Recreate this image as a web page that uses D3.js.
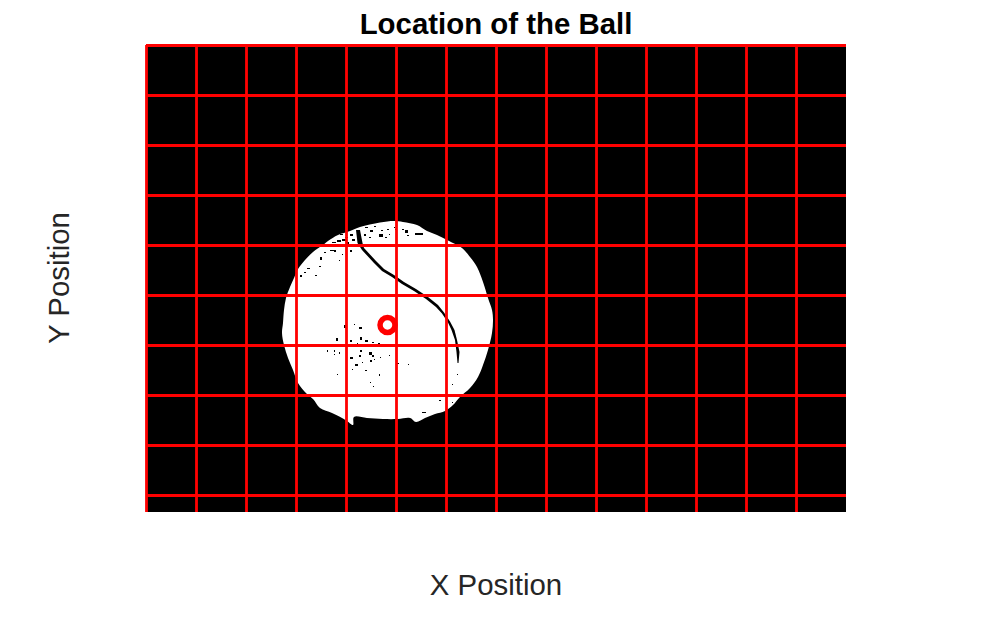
<!DOCTYPE html>
<html><head><meta charset="utf-8"><style>html,body{margin:0;background:#fff}svg{display:block}text{font-family:"Liberation Sans",Arial,sans-serif}</style>
<script src="https://cdn.jsdelivr.net/npm/d3@7/dist/d3.min.js"></script></head><body><div id="c"></div><script>
const titleText="Location of the Ball", xLabel="X Position", yLabel="Y Position";
const xTicks=[0,100,200,300,400,500,600,700,800,900,1000,1100,1200,1300];
const yTicks=[0,100,200,300,400,500,600,700,800,900];
const ballCenter=[[483,560]];
const ballOutline=[[496,352],[468,355],[428,364],[408,372],[384,380],[364,392],[354,400],[334,414],[318,430],[304,448],[296,466],[288,484],[280,506],[276,530],[274,556],[272,576],[276,600],[284,626],[294,650],[304,676],[322,698],[334,708],[348,726],[372,736],[392,746],[402,752],[414,760],[416,744],[442,746],[474,748],[504,748],[528,746],[540,754],[558,746],[578,738],[598,732],[614,720],[628,704],[648,686],[664,664],[674,640],[684,610],[692,576],[694,550],[692,530],[684,506],[674,474],[662,444],[648,424],[632,406],[614,396],[602,390],[582,380],[562,372],[542,360],[514,354]];
const seamOutline=[[428,370],[433,396],[436,406],[460,432],[476,448],[496,460],[516,474],[540,488],[564,504],[584,520],[596,535],[608,553],[617,570],[622,590],[627,614],[625,636],[623,636],[621,614],[618,590],[611,570],[604,555],[592,537],[580,524],[560,508],[536,492],[512,478],[492,464],[472,452],[456,436],[432,410],[423,396],[420,370]];
const specks=[[538,375,16,5],[518,370,6,5],[511,367,4,3],[465,378,8,5],[481,367,4,3],[495,363,3,3],[448,370,5,3],[438,363,5,2],[435,378,5,3],[445,383,4,3],[478,383,4,3],[521,380,4,2],[548,378,5,2],[408,377,5,4],[391,387,10,4],[381,390,8,3],[371,393,8,3],[388,377,6,3],[398,383,5,3],[368,409,10,3],[355,413,5,3],[375,410,4,3],[348,423,3,6],[391,417,3,3],[385,430,3,2],[321,445,6,2],[315,453,4,2],[308,460,3,3],[338,460,3,2],[345,442,5,2],[408,410,4,3],[485,377,3,3],[498,367,3,2],[456,362,4,2],[470,370,3,2],[412,388,5,3],[402,394,4,3],[362,400,4,3],
[395,560,4,6],[425,563,6,5],[415,557,3,3],[379,585,4,6],[408,590,4,4],[428,583,4,6],[438,590,5,4],[421,595,3,3],[451,593,4,3],[463,595,4,4],[361,610,2,4],[375,610,2,3],[385,613,2,4],[375,617,2,3],[428,610,4,3],[445,613,6,6],[451,620,4,4],[408,623,6,4],[425,620,4,3],[448,630,3,3],[468,623,2,3],[485,620,2,2],[418,638,6,4],[431,633,3,3],[501,635,5,3],[523,638,2,2],[411,647,2,2],[438,650,3,2],[465,657,3,4],[381,657,2,2],[447,673,2,2],[611,677,2,2],[453,682,2,2],[585,709,4,3],[611,713,3,3],[551,733,8,2],[598,737,3,3],[621,657,2,3],[448,617,4,3],[455,627,3,3]];
const W=994,H=640,L=146,T=45,PW=700,PH=467;
const svg=d3.select("#c").append("svg").attr("width",W).attr("height",H);
const x=d3.scaleLinear().domain([0,1400]).range([L,L+PW]);
const y=d3.scaleLinear().domain([0,934]).range([T,T+PH]);
const plot=svg.append("g");
plot.append("rect").attr("x",x(0)).attr("y",y(0)).attr("width",x(1400)-x(0)).attr("height",y(934)-y(0)).attr("fill","#000");
const smooth=d3.line().x(d=>x(d[0])).y(d=>y(d[1])).curve(d3.curveCatmullRomClosed);
const area=d3.line().x(d=>x(d[0])).y(d=>y(d[1])).curve(d3.curveLinearClosed);
plot.append("path").datum(ballOutline).attr("d",smooth).attr("fill","#fff");
plot.append("path").datum(seamOutline).attr("d",area).attr("fill","#000");
plot.selectAll("rect.s").data(specks).join("rect").attr("class","s")
 .attr("x",d=>x(d[0])).attr("y",d=>y(d[1])).attr("width",d=>x(d[2])-x(0)).attr("height",d=>y(d[3])-y(0)).attr("fill","#000").attr("shape-rendering","crispEdges");
const ax=d3.axisBottom(x).tickValues(xTicks).tickFormat("").tickSize(y(934)-y(0)).tickSizeOuter(0);
const ay=d3.axisRight(y).tickValues(yTicks).tickFormat("").tickSize(x(1400)-x(0)).tickSizeOuter(0);
const gx=plot.append("g").attr("transform",`translate(0,${y(0)})`).call(ax);
const gy=plot.append("g").attr("transform",`translate(${x(0)},0)`).call(ay);
[gx,gy].forEach(g=>{g.select(".domain").remove();g.selectAll("line").attr("stroke","#ff0000").attr("stroke-width",2.8);});
plot.selectAll("circle.m").data(ballCenter).join("circle").attr("class","m").attr("cx",d=>x(d[0])).attr("cy",d=>y(d[1])).attr("r",7.5).attr("fill","none").attr("stroke","#ff0000").attr("stroke-width",5.5);
svg.append("text").attr("x",496).attr("y",34).attr("text-anchor","middle").attr("font-size",29.4).attr("font-weight","bold").attr("fill","#000").text(titleText);
svg.append("text").attr("x",496).attr("y",595).attr("text-anchor","middle").attr("font-size",29.4).attr("fill","#262626").text(xLabel);
svg.append("text").attr("transform","translate(69,278) rotate(-90)").attr("text-anchor","middle").attr("font-size",29.4).attr("fill","#262626").text(yLabel);
</script></body></html>
